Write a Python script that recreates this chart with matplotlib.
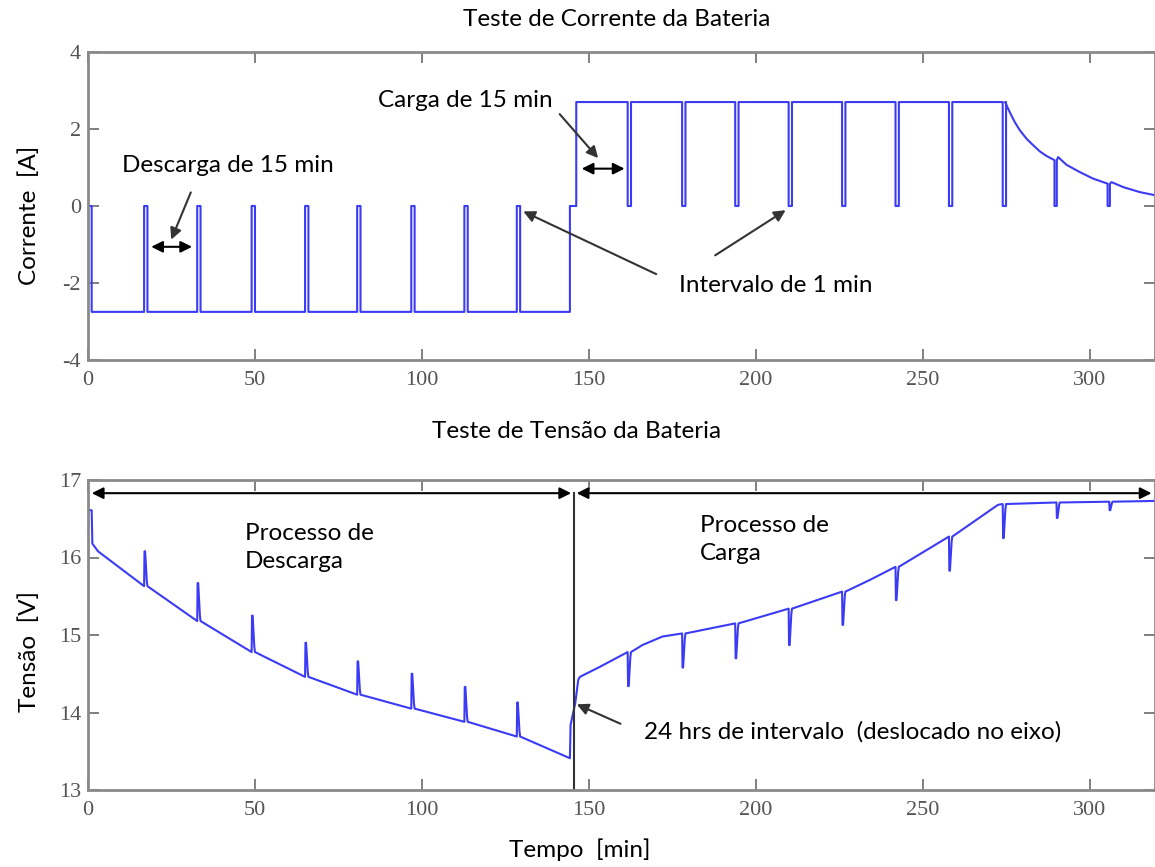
import matplotlib
matplotlib.use("Agg")
import matplotlib.pyplot as plt
import numpy as np

plt.rcParams["axes.unicode_minus"] = False

# ---- data (time in minutes) ----
# current: discharge at -2.75 A, 1 min rests at 0 A
i_dis_level = -2.75
i_chg_level = 2.70
rest_len = 1.0
i_dis_rests = [16.8, 32.7, 49.0, 65.0, 80.6, 96.8, 112.7, 128.4]
i_dis_start, i_dis_end = 1.1, 144.3
i_chg_start = 146.2
i_chg_rests = [161.6, 177.9, 193.8, 209.8, 225.8, 241.8, 257.8, 273.9]
# constant-voltage tail after the last charge step (nan = no rest)
i_tail_t = [274.6, 276.0, 277.5, 279.0, 281.0, 283.0, 285.0, 287.0, 289.4,
            290.5, 293.0, 297.0, 301.0, 305.3,
            306.5, 310.0, 315.0, 319.5]
i_tail_v = [2.70, 2.44, 2.18, 1.97, 1.75, 1.58, 1.42, 1.30, 1.19,
            1.27, 1.07, 0.88, 0.71, 0.58,
            0.62, 0.49, 0.36, 0.28]
i_tail_rest = [np.nan] * 8 + [0.0] + [np.nan] * 4 + [0.0] + [np.nan] * 4

# voltage: discharge knots, relaxation peaks at the rests
v_dis_t = [0.0, 1.1, 1.3, 3.0, 16.8, 32.7, 49.0, 65.0, 80.6, 96.8, 112.7, 128.4, 144.3]
v_dis_v = [16.61, 16.61, 16.18, 16.08, 15.63, 15.18, 14.78, 14.46, 14.23, 14.05, 13.88, 13.69, 13.41]
v_dis_pk = [np.nan, np.nan, np.nan, np.nan, 16.08, 15.67, 15.25, 14.90, 14.66, 14.50, 14.33, 14.13, np.nan]
# jump across the 24 h pause
v_gap_t = [144.5, 145.9, 146.8]
v_gap_v = [13.84, 14.12, 14.42]
# charge knots, dips at the rests
v_chg_t = [147.3, 153.3, 161.6, 166.0, 172.0, 177.9, 193.8, 209.8, 225.8, 234.1, 241.8,
           257.8, 272.5, 273.9, 290.0, 305.8, 319.5]
v_chg_v = [14.46, 14.59, 14.78, 14.87, 14.98, 15.02, 15.15, 15.34, 15.56, 15.71, 15.88,
           16.27, 16.68, 16.69, 16.71, 16.72, 16.73]
v_chg_dip = [np.nan, np.nan, 14.34, np.nan, np.nan, 14.58, 14.70, 14.87, 15.13, np.nan, 15.45,
             15.83, np.nan, 16.25, 16.51, 16.61, np.nan]

x_ticks = [0, 50, 100, 150, 200, 250, 300]
i_ticks = [-4, -2, 0, 2, 4]
v_ticks = [13, 14, 15, 16, 17]
t_split = 145.5


def square(start_t, level, rests, end_t):
    t, v = [start_t], [level]
    for r in rests:
        t += [r, r, r + rest_len, r + rest_len]
        v += [level, 0.0, 0.0, level]
    t.append(end_t)
    v.append(level)
    return t, v


def with_rests(kt, kv, kr, shape):
    t, v = [], []
    for a, b, r in zip(kt, kv, kr):
        t.append(a)
        v.append(b)
        if not np.isnan(r):
            if shape == "step":
                t += [a, a + 0.7, a + 0.7]
                v += [r, r, b]
            else:
                t += [a + 0.12, a + 0.3, a + 0.8, a + 1.0]
                v += [r, r, b + (r - b) * 0.15, b]
    return t, v


# current trace
ct, cv = [0.0, i_dis_start, i_dis_start], [0.0, 0.0, i_dis_level]
t, v = square(i_dis_start, i_dis_level, i_dis_rests, i_dis_end)
ct += t[1:]; cv += v[1:]
ct += [i_dis_end, i_chg_start, i_chg_start]
cv += [0.0, 0.0, i_chg_level]
t, v = square(i_chg_start, i_chg_level, i_chg_rests, i_tail_t[0])
ct += t[1:]; cv += v[1:]
t, v = with_rests(i_tail_t, i_tail_v, i_tail_rest, "step")
ct += t; cv += v

# voltage trace
vt, vv = with_rests(v_dis_t, v_dis_v, v_dis_pk, "spike")
vt += v_gap_t; vv += v_gap_v
t, v = with_rests(v_chg_t, v_chg_v, v_chg_dip, "spike")
vt += t; vv += v

W, H = 1155, 867
fig = plt.figure(figsize=(W / 100, H / 100), dpi=100)
ax1 = fig.add_axes([88 / W, 1 - 360 / H, 1067 / W, 308 / H])
ax2 = fig.add_axes([88 / W, 1 - 790 / H, 1067 / W, 310 / H])

blue = "#3b3bf5"
ax1.plot(ct, cv, color=blue, lw=1.5)
ax2.plot(vt, vv, color=blue, lw=1.5)

for ax, yt, yl in [(ax1, i_ticks, (-4, 4)), (ax2, v_ticks, (13, 17))]:
    ax.set_xlim(0, 319.5)
    ax.set_ylim(*yl)
    ax.set_xticks(x_ticks)
    ax.set_yticks(yt)
    ax.tick_params(direction="in", top=True, right=True, length=8, width=1.4,
                   color="#808080", labelcolor="#555555", labelsize=16)
    ax.tick_params(axis="x", pad=8)
    ax.tick_params(axis="y", pad=5)
    for lab in ax.get_xticklabels() + ax.get_yticklabels():
        lab.set_family("Liberation Serif")
    for s in ax.spines.values():
        s.set_color("#8a8a8a")
        s.set_linewidth(2)

sans = "Lato"
fs = 17.5
fig.text(617 / W, 1 - 20 / H, "Teste de Corrente da Bateria", family=sans, fontsize=fs,
         ha="center", va="center")
fig.text(577 / W, 1 - 432 / H, "Teste de Tensão da Bateria", family=sans, fontsize=fs,
         ha="center", va="center")
fig.text(29 / W, 1 - 215 / H, "Corrente  [A]", family=sans, fontsize=fs, rotation=90,
         ha="center", va="center")
fig.text(29 / W, 1 - 652 / H, "Tensão  [V]", family=sans, fontsize=fs, rotation=90,
         ha="center", va="center")
fig.text(580 / W, 1 - 850 / H, "Tempo  [min]", family=sans, fontsize=fs,
         ha="center", va="center")

arrow_c = "#333333"
one = dict(arrowstyle="-|>", color=arrow_c, lw=1.5, mutation_scale=17)
two = dict(arrowstyle="<|-|>", color="black", lw=1.5, mutation_scale=17)

# top panel notes
ax1.text(10.2, 1.06, "Descarga de 15 min", family=sans, fontsize=fs, va="center")
ax1.annotate("", xy=(24.6, -0.94), xytext=(31.1, 0.42), arrowprops=one)
ax1.annotate("", xy=(18.1, -1.06), xytext=(32.0, -1.06), arrowprops=two)
ax1.text(86.8, 2.75, "Carga de 15 min", family=sans, fontsize=fs, va="center")
ax1.annotate("", xy=(153.3, 1.19), xytext=(140.7, 2.44), arrowprops=one)
ax1.annotate("", xy=(147.0, 0.97), xytext=(161.5, 0.97), arrowprops=two)
ax1.text(176.9, -2.06, "Intervalo de 1 min", family=sans, fontsize=fs, va="center")
ax1.annotate("", xy=(129.6, -0.11), xytext=(170.9, -1.80), arrowprops=one)
ax1.annotate("", xy=(209.6, -0.07), xytext=(187.1, -1.32), arrowprops=one)

# bottom panel notes
ax2.plot([t_split, t_split], [16.83, 13], color="#333333", lw=1.5)
ax2.annotate("", xy=(0.3, 16.83), xytext=(t_split, 16.83), arrowprops=two)
ax2.annotate("", xy=(319.3, 16.83), xytext=(t_split, 16.83), arrowprops=two)
ax2.text(47, 16.125, "Processo de\nDescarga", family=sans, fontsize=fs, va="center",
         linespacing=1.4)
ax2.text(183.2, 16.235, "Processo de\nCarga", family=sans, fontsize=fs, va="center",
         linespacing=1.4)
ax2.text(166.5, 13.75, "24 hrs de intervalo  (deslocado no eixo)", family=sans,
         fontsize=fs, va="center")
ax2.annotate("", xy=(145.6, 14.12), xytext=(160.2, 13.84), arrowprops=one)

fig.savefig("out.png", dpi=100)
